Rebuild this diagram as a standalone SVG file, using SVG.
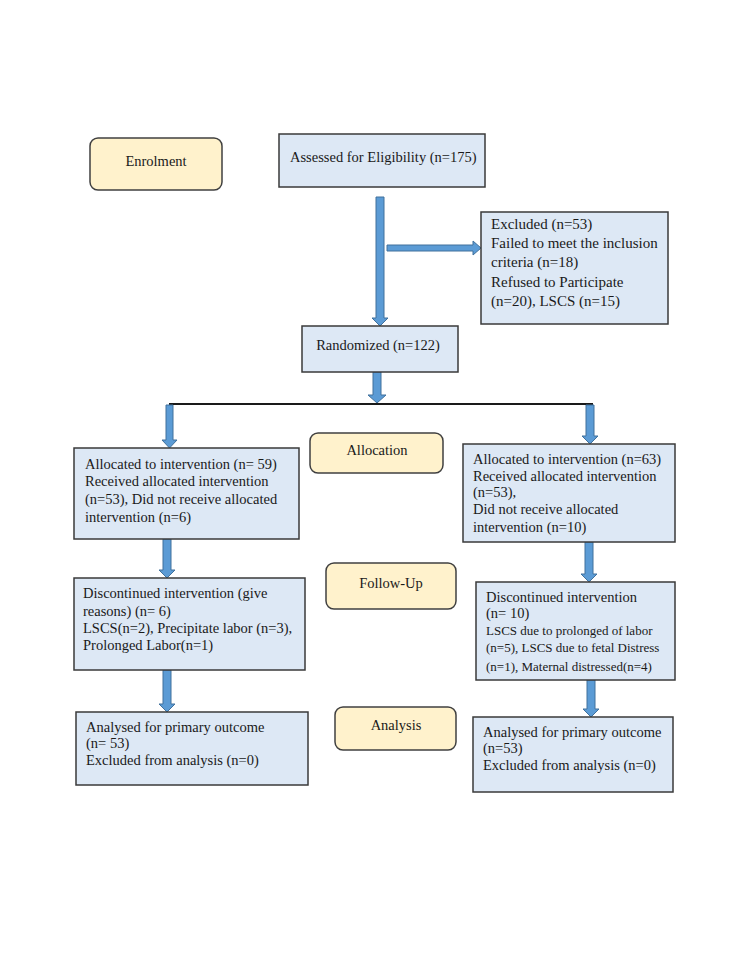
<svg xmlns="http://www.w3.org/2000/svg" width="750" height="971" viewBox="0 0 750 971">
<style>
.box{fill:#dde8f5;stroke:#3a3a3a;stroke-width:1.5}
.stage{fill:#fff2cc;stroke:#404040;stroke-width:1.5}
text{font-family:"Liberation Serif","Times New Roman",serif;font-size:14.5px;fill:#1a1a1a}
.c{text-anchor:middle}
.sm{font-size:13px}
.arr{fill:#5b9bd5;stroke:#41719c;stroke-width:1}
.line{stroke:#1a1a1a;stroke-width:2;fill:none}
</style>
<rect width="750" height="971" fill="#ffffff"/>
<g id="connectors">
<path class="arr" d="M376,197 H384 V318 H388 L380,326 L372,318 H376 Z"/>
<path class="arr" d="M387,245 H473 V241 L481,248 L473,255 V251 H387 Z"/>
<path class="arr" d="M373,372 H381 V395 H386 L377,403 L368,395 H373 Z"/>
<path class="line" d="M169,404 H593"/>
<path class="arr" d="M166,405 H173 V440 H177 L169.5,448 L162,440 H166 Z"/>
<path class="arr" d="M586,405 H594 V436 H598 L590,444 L582,436 H586 Z"/>
<path class="arr" d="M163,539 H171 V570 H175 L167,578 L159,570 H163 Z"/>
<path class="arr" d="M585,542 H593 V574 H597 L589,582 L581,574 H585 Z"/>
<path class="arr" d="M163,670 H171 V704 H175 L167,712 L159,704 H163 Z"/>
<path class="arr" d="M587,680 H595 V709 H599 L591,717 L583,709 H587 Z"/>
</g>
<g id="enrolment"><rect class="stage" x="90" y="138" width="132" height="52" rx="8"/><text class="c" x="156" y="166">Enrolment</text></g>
<g id="assessed"><rect class="box" x="279" y="134" width="206" height="53"/><text x="290" y="162">Assessed for Eligibility (n=175)</text></g>
<g id="excluded"><rect class="box" x="481" y="212" width="187" height="112"/>
<text x="491" y="229" style="font-size:15px">Excluded (n=53)</text>
<text x="491" y="248" style="font-size:15px">Failed to meet the inclusion</text>
<text x="491" y="267" style="font-size:15px">criteria (n=18)</text>
<text x="491" y="287" style="font-size:15px">Refused to Participate</text>
<text x="491" y="306" style="font-size:15px">(n=20), LSCS (n=15)</text></g>
<g id="randomized"><rect class="box" x="302" y="326" width="156" height="46"/><text class="c" x="378" y="350">Randomized (n=122)</text></g>
<g id="allocation"><rect class="stage" x="310" y="433" width="133" height="40" rx="8"/><text class="c" x="377" y="455">Allocation</text></g>
<g id="alloc-left"><rect class="box" x="74" y="448" width="225" height="91"/>
<text x="85" y="469">Allocated to intervention (n= 59)</text>
<text x="85" y="486">Received allocated intervention</text>
<text x="85" y="504">(n=53), Did not receive allocated</text>
<text x="85" y="522">intervention (n=6)</text></g>
<g id="alloc-right"><rect class="box" x="463" y="444" width="212" height="98"/>
<text x="473" y="464">Allocated to intervention (n=63)</text>
<text x="473" y="481">Received allocated intervention</text>
<text x="473" y="497">(n=53),</text>
<text x="473" y="514">Did not receive allocated</text>
<text x="473" y="532">intervention (n=10)</text></g>
<g id="followup"><rect class="stage" x="326" y="563" width="130" height="46" rx="8"/><text class="c" x="391" y="588">Follow-Up</text></g>
<g id="disc-left"><rect class="box" x="74" y="578" width="231" height="92"/>
<text x="83" y="598">Discontinued intervention (give</text>
<text x="83" y="616">reasons) (n= 6)</text>
<text x="83" y="633">LSCS(n=2), Precipitate labor (n=3),</text>
<text x="83" y="650">Prolonged Labor(n=1)</text></g>
<g id="disc-right"><rect class="box" x="476" y="582" width="199" height="98"/>
<text x="486" y="602">Discontinued intervention</text>
<text x="486" y="618">(n= 10)</text>
<text class="sm" x="486" y="635">LSCS due to prolonged of labor</text>
<text class="sm" x="486" y="652">(n=5), LSCS due to fetal Distress</text>
<text class="sm" x="486" y="671">(n=1), Maternal distressed(n=4)</text></g>
<g id="analysis"><rect class="stage" x="335" y="707" width="121" height="43" rx="8"/><text class="c" x="396" y="730">Analysis</text></g>
<g id="anal-left"><rect class="box" x="76" y="712" width="232" height="73"/>
<text x="86" y="732">Analysed for primary outcome</text>
<text x="86" y="748">(n= 53)</text>
<text x="86" y="765">Excluded from analysis (n=0)</text></g>
<g id="anal-right"><rect class="box" x="473" y="717" width="200" height="75"/>
<text x="483" y="737">Analysed for primary outcome</text>
<text x="483" y="753">(n=53)</text>
<text x="483" y="770">Excluded from analysis (n=0)</text></g>
</svg>
